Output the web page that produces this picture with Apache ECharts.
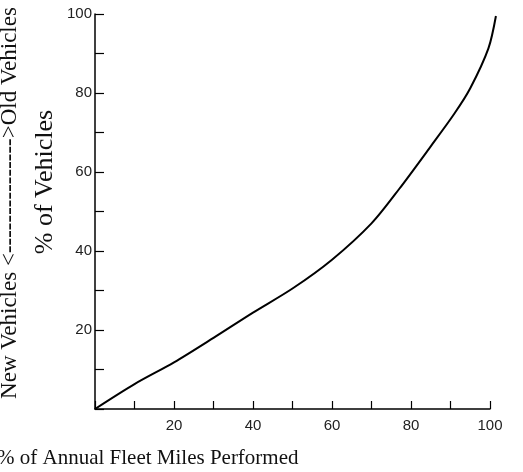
<!DOCTYPE html>
<html>
<head>
<meta charset="utf-8">
<script src="https://cdn.jsdelivr.net/npm/echarts@6/dist/echarts.min.js"></script>
<style>html,body{margin:0;padding:0;background:#fff;}#c{width:523px;height:472px;}</style>
</head>
<body>
<div id="c"></div>
<script>
// Data
var milesPct = [0, 10, 20, 30, 40, 50, 60, 70, 77, 85, 91, 95, 99.6, 101.5];
var vehiclesPct = [0, 6.3, 11.8, 18, 24.4, 30.5, 37.8, 47, 55.7, 66.5, 74.8, 81.2, 91.3, 99.5];
var xTickLabels = [20, 40, 60, 80, 100];
var yTickLabels = [20, 40, 60, 80, 100];
var xTitle = '% of Annual Fleet Miles Performed';
var yTitle = '% of Vehicles';
var sideTitle = 'New Vehicles <--------------->Old Vehicles';

var pts = milesPct.map(function (x, i) { return [x, vehiclesPct[i]]; });
var curveMax = Math.max.apply(null, milesPct);
var plotLeft = 95, plotWidth = 395;
var curveRight = 523 - plotLeft - plotWidth * curveMax / 100;

var chart = echarts.init(document.getElementById('c'));
var serif = '"Liberation Serif", "DejaVu Serif", serif';
var sans = '"Liberation Sans", sans-serif';
chart.setOption({
  backgroundColor: '#fff',
  animation: false,
  grid: [
    { left: plotLeft, right: 523 - plotLeft - plotWidth, top: 14, bottom: 63 },
    { left: plotLeft, right: curveRight, top: 14, bottom: 63 }
  ],
  xAxis: [{
    type: 'value', gridIndex: 0, min: 0, max: 100, interval: 10,
    axisLine: { lineStyle: { color: '#000', width: 1.5 } },
    axisTick: { inside: true, length: 8, lineStyle: { color: '#000', width: 1.2 } },
    splitLine: { show: false },
    axisLabel: {
      margin: 9, color: '#222', fontSize: 15, fontFamily: sans,
      formatter: function (v) { return xTickLabels.indexOf(v) >= 0 ? String(v) : ''; }
    }
  }, {
    type: 'value', gridIndex: 1, min: 0, max: curveMax, show: false
  }],
  yAxis: [{
    type: 'value', gridIndex: 0, min: 0, max: 100, interval: 10,
    axisLine: { show: true, lineStyle: { color: '#000', width: 1.5 } },
    axisTick: { show: true, inside: true, length: 9, lineStyle: { color: '#000', width: 1.2 } },
    splitLine: { show: false },
    axisLabel: {
      margin: 3, color: '#222', fontSize: 15, fontFamily: sans,
      formatter: function (v) { return yTickLabels.indexOf(v) >= 0 ? String(v) : ''; }
    }
  }, {
    type: 'value', gridIndex: 1, min: 0, max: 100, show: false
  }],
  series: [{
    type: 'line', xAxisIndex: 1, yAxisIndex: 1, data: pts, smooth: 0.3, symbol: 'none', clip: false,
    lineStyle: { color: '#000', width: 2 }
  }],
  graphic: [
    { type: 'text', left: -3, top: 448,
      style: { text: xTitle, font: '21px ' + serif, fill: '#111' } },
    { type: 'text', x: 45, y: 182, rotation: Math.PI / 2,
      style: { text: yTitle, font: '26px ' + serif, fill: '#111', align: 'center', verticalAlign: 'middle' } },
    { type: 'text', x: 10, y: 203, rotation: Math.PI / 2,
      style: { text: sideTitle, font: '23px ' + serif, fill: '#111', align: 'center', verticalAlign: 'middle' } }
  ]
});
</script>
</body>
</html>
